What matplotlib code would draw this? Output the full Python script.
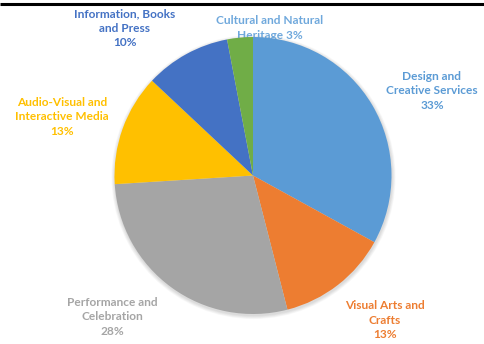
import matplotlib.pyplot as plt
from matplotlib.patches import Circle

# Share of creative sectors (percent), clockwise from 12 o'clock
sectors = ["Design and\nCreative Services", "Visual Arts and\nCrafts", "Performance and\nCelebration",
           "Audio-Visual and\nInteractive Media", "Information, Books\nand Press", "Cultural and Natural\nHeritage"]
shares = [33, 13, 28, 13, 10, 3]
colors = ["#5B9BD5", "#ED7D31", "#A5A5A5", "#FFC000", "#4472C4", "#70AD47"]
text_colors = ["#5B9BD5", "#ED7D31", "#A5A5A5", "#FFC000", "#4472C4", "#6FA8DC"]

W, H = 485, 344
fig = plt.figure(figsize=(W / 100, H / 100), dpi=100)
ax = fig.add_axes([0, 0, 1, 1])
ax.set_xlim(0, W)
ax.set_ylim(0, H)
ax.set_aspect("equal")
ax.axis("off")

cx, cy, r = 253, H - 175.5, 138.5

# soft drop shadow under the pie
for i in range(6):
    ax.add_patch(Circle((cx + 0.5, cy - 1.5), r + 0.6 * (i + 1), color="black",
                        alpha=0.025, lw=0, zorder=1))

ax.pie(shares, colors=colors, startangle=90, counterclock=False, center=(cx, cy), radius=r,
       wedgeprops=dict(linewidth=0, zorder=3), frame=True)
ax.set_xlim(0, W)
ax.set_ylim(0, H)
ax.axis("off")

# label anchor points (centre of text block, in pixels from top-left)
label_pos = [(432, 91), (385, 320), (112, 317), (62, 117), (125, 28), (270, 28)]
for name, val, tc, (x, y) in zip(sectors, shares, text_colors, label_pos):
    if name.startswith("Cultural"):
        txt = name + " %d%%" % val
    else:
        txt = name + "\n%d%%" % val
    ax.text(x, H - y, txt, ha="center", va="center", fontsize=8.6, fontweight="bold",
            family="Lato", color=tc, linespacing=1.35, zorder=2)

# rule across the top
ax.plot([0, 484], [H - 4, H - 4], color="black", lw=2.2, solid_capstyle="butt", zorder=5)

fig.savefig("out.png", dpi=100)
